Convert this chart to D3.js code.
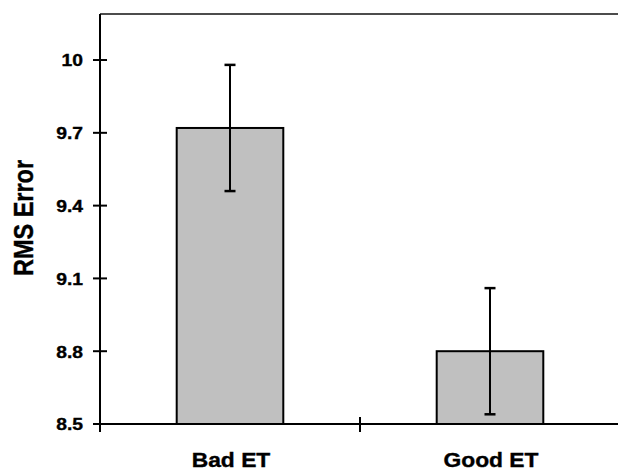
<!DOCTYPE html>
<html>
<head>
<meta charset="utf-8">
<script src="https://cdn.jsdelivr.net/npm/d3@7"></script>
<style>
  html, body { margin: 0; padding: 0; background: #fff; }
  svg { display: block; }
  text { font-family: "Liberation Sans", Arial, Helvetica, sans-serif; font-weight: bold; fill: #000; stroke: #000; stroke-width: 0.35px; }
</style>
</head>
<body>
<svg id="chart" width="618" height="470"></svg>
<script>
const categories = ["Bad ET", "Good ET"];
const values = [9.72, 8.80];
const errors = [0.26, 0.26];
const yTicks = [8.5, 8.8, 9.1, 9.4, 9.7, 10];
const yTickLabels = ["8.5", "8.8", "9.1", "9.4", "9.7", "10"];
const yLabel = "RMS Error";

const svg = d3.select("#chart");
const stretch = 1.17;

const x = d3.scaleBand().domain(categories).range([100, 620]).paddingInner(0.59).paddingOuter(0.295);
const y = d3.scaleLinear().domain([8.5, 10.2]).range([424, 11.5]);

// top border
svg.append("line").attr("x1", 100).attr("x2", 618).attr("y1", y(10.19)).attr("y2", y(10.19))
  .attr("stroke", "#111").attr("stroke-width", 1.5);

// bars
svg.selectAll("rect.bar").data(categories).enter().append("rect")
  .attr("class", "bar")
  .attr("x", d => x(d))
  .attr("width", x.bandwidth())
  .attr("y", (d, i) => y(values[i]))
  .attr("height", (d, i) => y(8.5) - y(values[i]))
  .attr("fill", "#c0c0c0").attr("stroke", "#000").attr("stroke-width", 2);

// error bars
const eb = svg.selectAll("g.err").data(categories).enter().append("g").attr("class", "err");
eb.append("line")
  .attr("x1", d => x(d) + x.bandwidth() / 2).attr("x2", d => x(d) + x.bandwidth() / 2)
  .attr("y1", (d, i) => y(values[i] + errors[i])).attr("y2", (d, i) => y(values[i] - errors[i]))
  .attr("stroke", "#000").attr("stroke-width", 2);
eb.append("line")
  .attr("x1", d => x(d) + x.bandwidth() / 2 - 5.5).attr("x2", d => x(d) + x.bandwidth() / 2 + 5.5)
  .attr("y1", (d, i) => y(values[i] + errors[i])).attr("y2", (d, i) => y(values[i] + errors[i]))
  .attr("stroke", "#000").attr("stroke-width", 2.5);
eb.append("line")
  .attr("x1", d => x(d) + x.bandwidth() / 2 - 5.5).attr("x2", d => x(d) + x.bandwidth() / 2 + 5.5)
  .attr("y1", (d, i) => y(values[i] - errors[i])).attr("y2", (d, i) => y(values[i] - errors[i]))
  .attr("stroke", "#000").attr("stroke-width", 2.5);

// y axis
svg.append("line").attr("x1", 100).attr("x2", 100).attr("y1", y(10.19)).attr("y2", 432)
  .attr("stroke", "#000").attr("stroke-width", 2);
svg.selectAll("line.ytick").data(yTicks).enter().append("line")
  .attr("class", "ytick")
  .attr("x1", 93).attr("x2", 107)
  .attr("y1", d => y(d)).attr("y2", d => y(d))
  .attr("stroke", "#000").attr("stroke-width", 2);
svg.selectAll("text.ylab").data(yTicks).enter().append("text")
  .attr("class", "ylab")
  .attr("transform", d => `translate(83,${y(d) + 6.3}) scale(${stretch},1)`)
  .attr("text-anchor", "end")
  .style("font-size", "16.5px")
  .text((d, i) => yTickLabels[i]);

// x axis
svg.append("line").attr("x1", 100).attr("x2", 618).attr("y1", y(8.5)).attr("y2", y(8.5))
  .attr("stroke", "#000").attr("stroke-width", 2);
const boundaries = categories.slice(1).map(c => x(c) - x.step() * x.paddingInner() / 2);
svg.selectAll("line.xtick").data(boundaries).enter().append("line")
  .attr("class", "xtick")
  .attr("x1", d => d).attr("x2", d => d)
  .attr("y1", 417).attr("y2", 432)
  .attr("stroke", "#000").attr("stroke-width", 2);
svg.selectAll("text.xlab").data(categories).enter().append("text")
  .attr("class", "xlab")
  .attr("transform", d => `translate(${x(d) + x.bandwidth() / 2 + 1},466.5) scale(${stretch},1)`)
  .attr("text-anchor", "middle")
  .style("font-size", "19.5px")
  .text(d => d);

// y label
svg.append("text")
  .attr("transform", `translate(33,218) scale(${stretch},1) rotate(-90)`)
  .attr("text-anchor", "middle")
  .style("font-size", "23.5px")
  .text(yLabel);
</script>
</body>
</html>
